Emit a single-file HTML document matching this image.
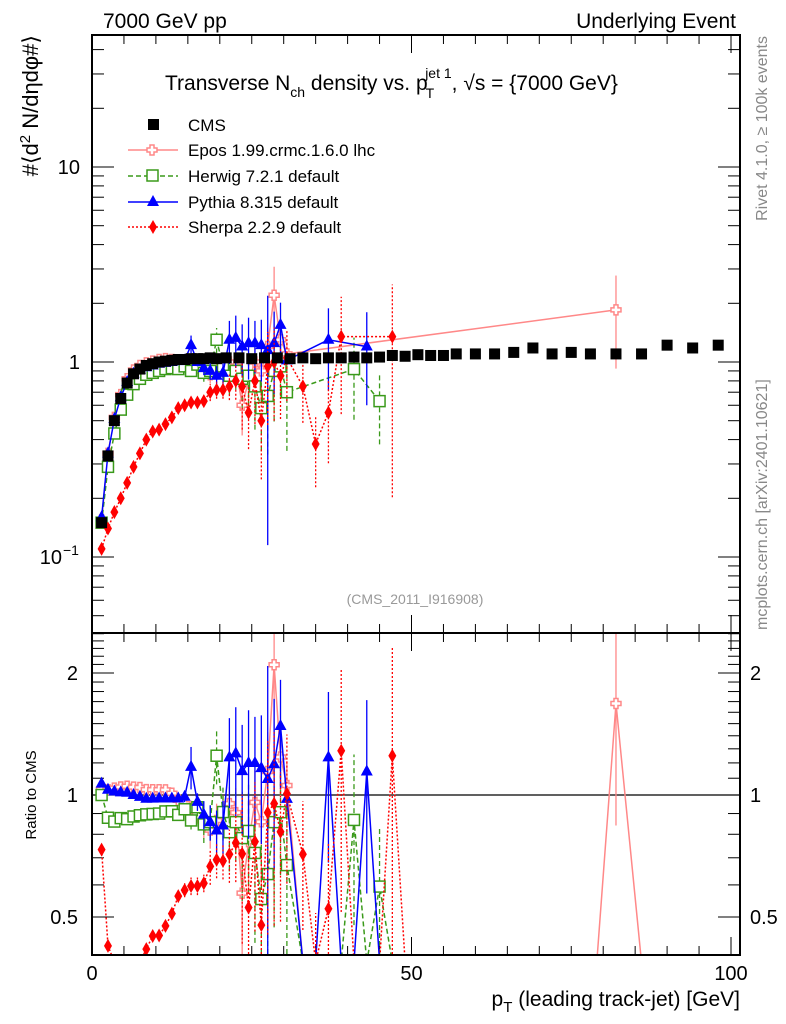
<!DOCTYPE html>
<html><head><meta charset="utf-8">
<style>
html,body{margin:0;padding:0;background:#fff;width:786px;height:1024px;overflow:hidden;}
svg{display:block;font-family:"Liberation Sans",sans-serif;overflow:hidden;}
</style></head>
<body>
<svg id="chart" width="786" height="1024" viewBox="0 0 786 1024" xmlns="http://www.w3.org/2000/svg">
<defs>
<clipPath id="clipMain"><rect x="92" y="35" width="648" height="598"/></clipPath>
<clipPath id="clipRatio"><rect x="92" y="633" width="648" height="322"/></clipPath>
</defs>
<rect x="0" y="0" width="786" height="1024" fill="#fff"/>
<text x="103" y="28" font-size="21">7000 GeV pp</text>
<text x="736" y="28" font-size="21" text-anchor="end">Underlying Event</text>
<g id="axes"></g>
<g id="marks"></g>
<rect x="92" y="35" width="648" height="598" fill="none" stroke="#000" stroke-width="2"/>
<rect x="92" y="633" width="648" height="322" fill="none" stroke="#000" stroke-width="2"/>
<text x="165" y="90" font-size="21">Transverse N<tspan font-size="14" dy="7">ch</tspan><tspan dy="-7"> density vs. p</tspan><tspan font-size="14" dx="-2" dy="8">T</tspan><tspan font-size="14" dx="-9" dy="-20">jet 1</tspan><tspan dy="12">, √s = {7000 GeV}</tspan></text>
<g font-size="17">
 <g><rect x="148" y="119" width="11" height="11" fill="#000"/><text x="188" y="131">CMS</text></g>
 <g><line x1="128" y1="150" x2="178" y2="150" stroke="#f88" stroke-width="1.5"/><path d="M150,145h4v3h3v4h-3v3h-4v-3h-3v-4h3z" fill="#fff" stroke="#f88" stroke-width="1.5"/><text x="188" y="156">Epos 1.99.crmc.1.6.0 lhc</text></g>
 <g><line x1="128" y1="176" x2="178" y2="176" stroke="#3a9a1a" stroke-width="1.5" stroke-dasharray="5,3"/><rect x="147" y="170" width="11" height="11" fill="#fff" stroke="#3a9a1a" stroke-width="1.5"/><text x="188" y="182">Herwig 7.2.1 default</text></g>
 <g><line x1="128" y1="202" x2="178" y2="202" stroke="#00f" stroke-width="1.5"/><path d="M153,195l6,11h-12z" fill="#00f"/><text x="188" y="208">Pythia 8.315 default</text></g>
 <g><line x1="128" y1="227" x2="178" y2="227" stroke="#f00" stroke-width="1.5" stroke-dasharray="2,2"/><path d="M153,220l4,7l-4,7l-4,-7z" fill="#f00"/><text x="188" y="233">Sherpa 2.2.9 default</text></g>
</g>
<text x="415" y="604" font-size="14" fill="#999" text-anchor="middle">(CMS_2011_I916908)</text>
<text transform="translate(767,36) rotate(-90)" font-size="16" fill="#888" text-anchor="end">Rivet 4.1.0, ≥ 100k events</text>
<text transform="translate(767,630) rotate(-90)" font-size="16" fill="#888">mcplots.cern.ch [arXiv:2401.10621]</text>
<text transform="translate(38,35) rotate(-90)" font-size="22" text-anchor="end">#⟨d<tspan font-size="15" dy="-8">2</tspan><tspan dy="8"> N/dηdφ#⟩</tspan></text>
<text transform="translate(36,795) rotate(-90)" font-size="15" text-anchor="middle">Ratio to CMS</text>
<text x="740" y="1006" font-size="21" text-anchor="end">p<tspan font-size="15" dy="6">T</tspan><tspan dy="-6"> (leading track-jet) [GeV]</tspan></text>
</svg>
<script>
var cmsX=[1.5,2.5,3.5,4.5,5.5,6.5,7.5,8.5,9.5,10.5,11.5,12.5,13.5,14.5,15.5,16.5,17.5,18.5,19.5,
21,23,25,27,29,31,33,35,37,39,41,43,45,47,49,51,53,55,57,60,63,66,69,72,75,78,82,86,90,94,98];
var cmsY=[0.15,0.33,0.5,0.65,0.78,0.87,0.92,0.96,0.98,1.0,1.01,1.02,1.03,1.03,1.04,1.04,1.04,1.05,1.04,
1.05,1.05,1.04,1.05,1.05,1.04,1.05,1.04,1.05,1.05,1.06,1.05,1.06,1.08,1.07,1.09,1.08,1.08,1.1,1.1,1.1,1.12,1.18,1.1,1.12,1.1,1.1,1.1,1.22,1.18,1.22];
var modelX=[1.5,2.5,3.5,4.5,5.5,6.5,7.5,8.5,9.5,10.5,11.5,12.5,13.5,14.5,15.5,16.5,17.5,18.5,19.5,20.5,21.5,22.5,23.5,24.5,25.5,26.5,27.5,28.5,29.5,30.5,
33,35,37,39,41,43,45,47,49,51,53,55,79,82,86];
var eposY=[0.155,0.34,0.52,0.68,0.82,0.91,0.96,0.99,1.01,1.03,1.04,1.03,1.0,0.98,0.96,0.93,0.88,0.86,0.9,0.95,1.0,0.95,0.6,0.8,1.0,0.9,1.2,2.2,1.3,1.1,
0,0,0,0,0,0,0,0,0,0,0,0,0,1.85,0];
var eposE=[0,0,0,0,0,0,0,0,0,0,0,0,0.03,0.04,0.05,0.05,0.08,0.1,0.1,0.1,0.1,0.15,0.3,0.25,0.2,0.3,0.25,0.4,0.2,0.15,
0,0,0,0,0,0,0,0,0,0,0,0,0,0.5,0];
var herwigY=[0.15,0.29,0.43,0.57,0.68,0.77,0.82,0.86,0.88,0.9,0.92,0.93,0.92,0.95,0.9,0.97,0.88,0.9,1.3,0.95,0.85,0.9,0.82,0.85,0.75,0.58,0.67,0.9,0.95,0.7,
0,0,0,0,0.92,0,0.63,0,0,0,0,0,0,0,0];
var herwigE=[0,0,0,0,0,0,0,0,0,0,0,0,0.03,0.03,0.05,0.05,0.1,0.1,0.15,0.15,0.2,0.2,0.3,0.3,0.4,0.4,0.5,0.45,0.3,0.5,
0,0,0,0,0.45,0,0.4,0,0,0,0,0,0,0,0];
var pythiaY=[0.16,0.34,0.51,0.66,0.79,0.87,0.91,0.94,0.96,0.98,0.99,1.0,1.01,1.02,1.22,1.0,0.93,0.9,0.85,0.88,1.3,1.33,1.2,1.25,1.25,1.22,1.15,1.25,1.55,1.02,
0,0,1.3,0,0,1.2,0,0,0,0,0,0,0,0,0];
var pythiaE=[0,0,0,0,0,0,0,0,0,0,0,0,0.02,0.03,0.12,0.05,0.08,0.1,0.12,0.15,0.25,0.3,0.3,0.35,0.3,0.35,0.9,0.45,0.3,0.05,
0,0,0.45,0,0,0.5,0,0,0,0,0,0,0,0,0];
var sherpaY=[0.11,0.14,0.17,0.2,0.24,0.29,0.34,0.4,0.44,0.45,0.48,0.52,0.58,0.6,0.62,0.62,0.63,0.7,0.72,0.72,0.75,0.8,0.75,0.55,0.8,0.5,0.95,1.0,0.85,1.05,
0.75,0.38,0.55,1.35,0,0,0,1.35,0,0,0,0,0,0,0];
var sherpaE=[0,0,0,0,0,0,0,0,0,0,0,0,0.03,0.04,0.05,0.05,0.05,0.1,0.1,0.1,0.15,0.2,0.4,0.35,0.4,0.5,0.5,0.5,0.4,0.4,
0.35,0.4,0.45,0.6,0,0,0,0.85,0,0,0,0,0,0,0];
var xTicks=[0,50,100];
var xTickLabels=["0","50","100"];
var ratioTicks=[0.5,1,2];
var ratioTickLabels=["0.5","1","2"];

var NS="http://www.w3.org/2000/svg";
function X(v){return 92+v*6.39;}
function Y(v){return Math.max(30,Math.min(640,362-195*Math.log10(v)));}
function R(v){return v<=0?962:Math.max(628,Math.min(962,795-122*Math.log2(v)));}
function mk(tag,attrs,parent){var e=document.createElementNS(NS,tag);for(var k in attrs){e.setAttribute(k,attrs[k]);}parent.appendChild(e);return e;}
function interp(x){for(var i=0;i<cmsX.length-1;i++){if(x<=cmsX[i+1]){var t=(x-cmsX[i])/(cmsX[i+1]-cmsX[i]);return cmsY[i]+Math.max(0,t)*(cmsY[i+1]-cmsY[i]);}}return cmsY[cmsY.length-1];}
var axes=document.getElementById('axes');
var marks=document.getElementById('marks');

for(var xv=0;xv<=100;xv+=5){
 var XL=(xv%50===0)?18:9;
 var spots=[[35,1],[633,-1],[633,1],[955,-1]];
 for(var s=0;s<spots.length;s++){
  var t=mk('line',{x1:X(xv),x2:X(xv),y1:spots[s][0],y2:spots[s][0]+spots[s][1]*XL,stroke:'#000','stroke-width':1},axes);
  
  
 }
}
for(var i=0;i<xTicks.length;i++){
 var tl=mk('text',{x:X(xTicks[i]),y:980,'font-size':20,'text-anchor':'middle'},axes);
 tl.textContent=xTickLabels[i];
 
 
}
var decs=[0.01,0.1,1,10];
for(var d=0;d<decs.length;d++){
 for(var m=1;m<10;m++){
  var yv=decs[d]*m,yy=362-195*Math.log10(yv);
  if(yy<35||yy>633)continue;
  var YL=m===1?22:12;
  var a=mk('line',{x1:92,x2:92+YL,y1:yy,y2:yy,stroke:'#000','stroke-width':1},axes);
  
  
  var b=mk('line',{x1:740,x2:740-YL,y1:yy,y2:yy,stroke:'#000','stroke-width':1},axes);
  
  
 }
}
var yl1=mk('text',{x:80,y:Y(10)+7,'font-size':20,'text-anchor':'end'},axes);yl1.textContent='10';


var yl2=mk('text',{x:80,y:Y(1)+7,'font-size':20,'text-anchor':'end'},axes);yl2.textContent='1';


var yl3=mk('text',{x:62,y:Y(0.1)+7,'font-size':20,'text-anchor':'end'},axes);yl3.textContent='10';


var yl4=mk('text',{x:63,y:Y(0.1)-2,'font-size':14},axes);yl4.textContent='−1';



for(var k=4;k<=25;k++){
 var rv=k/10,ry=795-122*Math.log2(rv);
 if(ry<633||ry>955)continue;
 var RL=(k===5||k===10||k===20)?22:12;
 var ra=mk('line',{x1:92,x2:92+RL,y1:ry,y2:ry,stroke:'#000','stroke-width':1},axes);
 
 
 var rb=mk('line',{x1:740,x2:740-RL,y1:ry,y2:ry,stroke:'#000','stroke-width':1},axes);
 
 
}
for(var j=0;j<ratioTicks.length;j++){
 var r1=mk('text',{x:78,y:R(ratioTicks[j])+7,'font-size':20,'text-anchor':'end'},axes);r1.textContent=ratioTickLabels[j];
 
 
 var r2=mk('text',{x:750,y:R(ratioTicks[j])+7,'font-size':20},axes);r2.textContent=ratioTickLabels[j];
 
 
}
var one=mk('line',{x1:92,x2:740,y1:R(1),y2:R(1),stroke:'#000','stroke-width':1.2},axes);



var gMain=mk('g',{'clip-path':'url(#clipMain)'},marks);


var gRatio=mk('g',{'clip-path':'url(#clipRatio)'},marks);



function marker(type,cx,cy,color,parent){
 if(type==='square')return mk('rect',{x:cx-5.5,y:cy-5.5,width:11,height:11,fill:'#fff',stroke:color,'stroke-width':1.5},parent);
 if(type==='cross')return mk('path',{d:'M'+(cx-2)+','+(cy-5)+'h4v3h3v4h-3v3h-4v-3h-3v-4h3z',fill:'#fff',stroke:color,'stroke-width':1.5},parent);
 if(type==='tri')return mk('path',{d:'M'+cx+','+(cy-7)+'l6,11h-12z',fill:color},parent);
 return mk('path',{d:'M'+cx+','+(cy-7)+'l4,7l-4,7l-4,-7z',fill:color},parent);
}
var models=[
 {name:'epos',y:eposY,e:eposE,color:'#f88',dash:'none',m:'cross'},
 {name:'herwig',y:herwigY,e:herwigE,color:'#3a9a1a',dash:'5,3',m:'square'},
 {name:'pythia',y:pythiaY,e:pythiaE,color:'#00f',dash:'none',m:'tri'},
 {name:'sherpa',y:sherpaY,e:sherpaE,color:'#f00',dash:'2,2',m:'diamond'}
];
for(var mi=0;mi<models.length;mi++){
 var md=models[mi];
 var g=mk('g',{},gMain);
 
 
 var gr=mk('g',{},gRatio);
 
 
 var pts=[],rpts=[];
 for(var n=0;n<modelX.length;n++){
  var x=modelX[n],v=md.y[n],c=interp(x);
  rpts.push(X(x).toFixed(1)+','+R(v/c).toFixed(1));
  if(v>0)pts.push(X(x).toFixed(1)+','+Y(v).toFixed(1));
 }
 var pl=mk('polyline',{points:pts.join(' '),fill:'none',stroke:md.color,'stroke-width':1.5,'stroke-dasharray':md.dash},g);
 
 
 var rl=mk('polyline',{points:rpts.join(' '),fill:'none',stroke:md.color,'stroke-width':1.5,'stroke-dasharray':md.dash},gr);
 
 
 for(var n2=0;n2<modelX.length;n2++){
  var x2=modelX[n2],v2=md.y[n2];
  if(!(v2>0))continue;
  var c2=interp(x2),err=md.e[n2];
  if(err>0){
   var lo=Math.max(v2*(1-err),0.001),hi=v2*(1+err);
   var eb=mk('line',{x1:X(x2),x2:X(x2),y1:Y(lo),y2:Y(hi),stroke:md.color,'stroke-width':1.3,'stroke-dasharray':md.dash},g);
   
   
   var er=mk('line',{x1:X(x2),x2:X(x2),y1:R(lo/c2),y2:R(hi/c2),stroke:md.color,'stroke-width':1.3,'stroke-dasharray':md.dash},gr);
   
   
  }
  var p=marker(md.m,X(x2),Y(v2),md.color,g);
  
  
  var q=marker(md.m,X(x2),R(v2/c2),md.color,gr);
  
  
 }
}
for(var ci=0;ci<cmsX.length;ci++){
 var sq=mk('rect',{x:X(cmsX[ci])-5.5,y:Y(cmsY[ci])-5.5,width:11,height:11,fill:'#000'},gMain);
 
 
}
</script>
</body></html>
